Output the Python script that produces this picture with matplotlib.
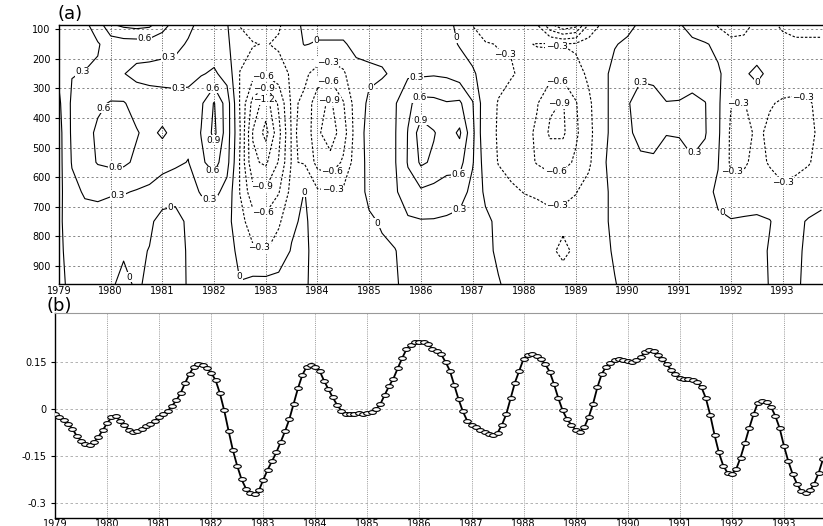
import numpy as np
import matplotlib
matplotlib.use("Agg")
import matplotlib.pyplot as plt
from matplotlib.path import Path
from matplotlib.transforms import Affine2D

# ---------------- panel (a): pressure-time section ----------------
# quarterly columns 1979.00 ... 1993.75
t_field = np.arange(1979.0, 1993.76, 0.25)
lev_hpa = [80, 150, 250, 350, 450, 550, 650, 750, 850, 970]

p080 = [0.15, 0.20, 0.25, 0.45,  0.90, 1.00, 1.05, 1.00,  0.75, 0.50, 0.35, 0.25,
        0.15, 0.02, -0.32, -0.45,  -0.45, -0.35, -0.10, 0.05,  0.08, 0.08, 0.08, 0.10,
        0.12, 0.12, 0.12, 0.15,  0.15, 0.15, 0.10, -0.10,  -0.32, -0.45, -0.45, -0.45,
        -0.50, -0.62, -1.20, -1.55,  -1.40, -0.62, -0.28, -0.10,  -0.05, 0.02, 0.10, 0.05,
        0.01, -0.10, -0.20, -0.35,  -0.45, -0.40, -0.25, -0.25,  -0.35, -0.40, -0.40, -0.40]
p150 = [0.10, 0.20, 0.22, 0.28,  0.40, 0.45, 0.45, 0.45,  0.40, 0.35, 0.28, 0.20,
        0.15, 0.05, -0.20, -0.28,  -0.32, -0.25, -0.10, 0.01,  -0.02, -0.02, -0.02, 0.05,
        0.08, 0.10, 0.10, 0.10,  0.15, 0.15, 0.10, -0.02,  -0.15, -0.28, -0.31, -0.32,
        -0.32, -0.29, -0.27, -0.29,  -0.25, -0.15, -0.08, -0.01,  0.03, 0.10, 0.12, 0.10,
        0.08, 0.05, 0.02, -0.05,  -0.22, -0.22, -0.20, -0.20,  -0.22, -0.25, -0.25, -0.25]
p250 = [0.05, 0.29, 0.31, 0.33,  0.36, 0.31, 0.22, 0.20,  0.20, 0.22, 0.25, 0.28,
        0.34, 0.20, -0.31, -0.50,  -0.55, -0.45, -0.25, -0.25,  -0.40, -0.50, -0.35, -0.06,
        -0.05, -0.03, 0.05, 0.25,  0.25, 0.27, 0.25, 0.15,  0.05, -0.15, -0.25, -0.28,
        -0.35, -0.40, -0.50, -0.50,  -0.40, -0.25, -0.05, 0.05,  0.20, 0.26, 0.22, 0.15,
        0.12, 0.15, 0.10, 0.03,  -0.10, -0.05, 0.08, -0.08,  -0.15, -0.15, -0.15, -0.12]
p350 = [-0.05, 0.35, 0.45, 0.55,  0.62, 0.62, 0.50, 0.45,  0.42, 0.38, 0.36, 0.55,
        0.92, 0.45, -0.32, -1.00,  -1.35, -0.85, -0.25, -0.35,  -0.80, -0.95, -0.62, -0.15,
        0.05, 0.15, 0.27, 0.55,  0.70, 0.68, 0.62, 0.65,  0.32, -0.20, -0.31, -0.40,
        -0.45, -0.58, -0.85, -0.92,  -0.62, -0.35, -0.10, 0.10,  0.28, 0.40, 0.42, 0.31,
        0.32, 0.38, 0.31, 0.05,  -0.29, -0.31, -0.20, -0.28,  -0.33, -0.35, -0.33, -0.22]
p450 = [-0.10, 0.35, 0.50, 0.65,  0.72, 0.70, 0.62, 0.52,  0.65, 0.50, 0.38, 0.61,
        0.98, 0.45, -0.28, -1.22,  -1.60, -1.00, -0.27, -0.35,  -0.85, -1.05, -0.75, -0.15,
        0.10, 0.20, 0.28, 0.61,  1.05, 0.92, 0.76, 0.95,  0.38, -0.25, -0.31, -0.42,
        -0.50, -0.65, -0.95, -0.95,  -0.65, -0.38, -0.10, 0.10,  0.25, 0.38, 0.42, 0.31,
        0.32, 0.40, 0.32, 0.05,  -0.35, -0.40, -0.25, -0.35,  -0.42, -0.42, -0.35, -0.25]
p550 = [-0.10, 0.32, 0.48, 0.62,  0.66, 0.65, 0.55, 0.45,  0.40, 0.35, 0.29, 0.55,
        0.72, 0.40, -0.32, -1.15,  -1.25, -0.88, -0.28, -0.32,  -0.70, -0.80, -0.55, -0.15,
        0.08, 0.15, 0.28, 0.62,  0.95, 0.85, 0.68, 0.70,  0.33, -0.15, -0.31, -0.40,
        -0.50, -0.62, -0.70, -0.70,  -0.55, -0.35, -0.05, 0.10,  0.15, 0.25, 0.25, 0.20,
        0.20, 0.27, 0.22, 0.01,  -0.35, -0.35, -0.20, -0.33,  -0.40, -0.38, -0.32, -0.20]
p650 = [-0.08, 0.22, 0.33, 0.35,  0.33, 0.32, 0.28, 0.25,  0.15, 0.10, 0.20, 0.32,
        0.38, 0.20, -0.31, -0.80,  -0.85, -0.62, -0.20, 0.01,  -0.25, -0.28, -0.25, -0.10,
        0.05, 0.10, 0.25, 0.50,  0.55, 0.50, 0.50, 0.45,  0.20, -0.05, -0.20, -0.25,
        -0.31, -0.35, -0.40, -0.35,  -0.31, -0.20, -0.05, 0.05,  0.08, 0.10, 0.10, 0.08,
        0.08, 0.10, 0.05, -0.03,  -0.20, -0.15, -0.10, -0.15,  -0.25, -0.20, -0.15, -0.08]
p750 = [-0.05, 0.15, 0.20, 0.20,  0.15, 0.12, 0.12, 0.05,  -0.10, -0.10, 0.05, 0.15,
        0.15, 0.10, -0.20, -0.45,  -0.50, -0.35, -0.05, 0.05,  -0.15, -0.20, -0.15, -0.05,
        -0.03, 0.02, 0.10, 0.25,  0.28, 0.28, 0.25, 0.20,  0.12, 0.05, -0.05, -0.10,
        -0.15, -0.15, -0.20, -0.24,  -0.20, -0.15, -0.05, 0.05,  0.10, 0.10, 0.10, 0.10,
        0.10, 0.10, 0.08, 0.02,  0.02, 0.03, 0.03, 0.01,  -0.10, -0.05, 0.02, 0.05]
p850 = [-0.05, 0.10, 0.12, 0.10,  0.05, 0.02, 0.05, -0.01,  -0.08, -0.08, 0.02, 0.10,
        0.10, 0.08, -0.05, -0.25,  -0.31, -0.15, 0.02, 0.05,  -0.10, -0.12, -0.10, -0.05,
        -0.05, -0.03, -0.01, 0.10,  0.15, 0.15, 0.15, 0.12,  0.08, 0.03, -0.02, -0.08,
        -0.12, -0.15, -0.25, -0.36,  -0.25, -0.15, -0.05, 0.02,  0.08, 0.10, 0.10, 0.10,
        0.10, 0.10, 0.10, 0.10,  0.10, 0.10, 0.08, -0.02,  -0.10, -0.05, 0.05, 0.08]
p970 = [-0.05, 0.05, 0.08, 0.05,  0.02, -0.05, 0.02, -0.03,  -0.10, -0.10, 0.02, 0.08,
        0.08, 0.05, 0.01, 0.10,  0.12, 0.10, 0.05, 0.03,  -0.08, -0.10, -0.08, -0.05,
        -0.05, -0.05, -0.02, 0.05,  0.10, 0.10, 0.10, 0.08,  0.06, 0.04, 0.01, -0.03,
        -0.08, -0.10, -0.12, -0.15,  -0.12, -0.08, -0.05, -0.01,  0.05, 0.08, 0.08, 0.08,
        0.08, 0.08, 0.08, 0.08,  0.08, 0.08, 0.08, -0.01,  -0.08, -0.03, 0.05, 0.08]

cont_levels = [-1.5, -1.2, -0.9, -0.6, -0.3, 0.0, 0.3, 0.6, 0.9]
p_ticks = [100, 200, 300, 400, 500, 600, 700, 800, 900]
year_ticks = list(range(1979, 1994))

# where the reference puts its contour labels (year, hPa)
label_pos = [(1980.65, 140), (1979.45, 242), (1981.15, 210), (1981.3, 290),
             (1979.8, 360), (1980.1, 585), (1980.15, 675), (1981.15, 700),
             (1981.98, 300), (1981.95, 478), (1981.98, 575), (1981.9, 684),
             (1982.5, 935), (1982.95, 262), (1982.95, 298), (1982.95, 335),
             (1982.95, 625), (1982.95, 718), (1982.85, 845), (1983.67, 650),
             (1984.0, 148), (1984.2, 215), (1984.2, 275), (1984.2, 335),
             (1984.3, 585), (1984.3, 645), (1985.0, 290), (1985.17, 755),
             (1985.92, 270), (1985.95, 328), (1986.0, 405), (1986.75, 615),
             (1986.8, 730), (1986.76, 125), (1987.72, 165), (1988.65, 180),
             (1988.65, 290), (1988.65, 350), (1988.6, 570), (1988.6, 640),
             (1990.14, 265), (1991.3, 520), (1991.72, 745), (1992.13, 350),
             (1992.04, 600), (1993.4, 325), (1993.0, 622), (1992.5, 283),
             (1980.35, 940)]

# ---------------- panel (b): monthly index, Jan 1979 - Oct 1993 ----------------
idx_1979 = [-0.016, -0.026, -0.035, -0.048, -0.063, -0.086, -0.101, -0.111, -0.115, -0.106, -0.089, -0.068]
idx_1980 = [-0.046, -0.027, -0.023, -0.038, -0.052, -0.066, -0.074, -0.072, -0.063, -0.055, -0.047, -0.038]
idx_1981 = [-0.027, -0.016, -0.006, 0.010, 0.028, 0.052, 0.083, 0.112, 0.135, 0.144, 0.141, 0.130]
idx_1982 = [0.115, 0.092, 0.050, -0.005, -0.070, -0.132, -0.182, -0.225, -0.254, -0.267, -0.270, -0.260]
idx_1983 = [-0.226, -0.194, -0.167, -0.139, -0.106, -0.072, -0.033, 0.016, 0.066, 0.108, 0.135, 0.141]
idx_1984 = [0.135, 0.121, 0.090, 0.063, 0.037, 0.013, -0.006, -0.015, -0.016, -0.015, -0.014, -0.015]
idx_1985 = [-0.014, -0.010, -0.001, 0.016, 0.045, 0.073, 0.097, 0.130, 0.162, 0.190, 0.205, 0.213]
idx_1986 = [0.215, 0.212, 0.206, 0.192, 0.184, 0.174, 0.150, 0.122, 0.076, 0.031, -0.008, -0.038]
idx_1987 = [-0.051, -0.058, -0.067, -0.073, -0.080, -0.083, -0.076, -0.051, -0.017, 0.034, 0.084, 0.122]
idx_1988 = [0.160, 0.173, 0.174, 0.170, 0.159, 0.142, 0.119, 0.079, 0.034, -0.005, -0.033, -0.051]
idx_1989 = [-0.067, -0.073, -0.058, -0.026, 0.016, 0.069, 0.111, 0.135, 0.147, 0.156, 0.158, 0.156]
idx_1990 = [0.152, 0.150, 0.156, 0.166, 0.181, 0.188, 0.184, 0.172, 0.158, 0.142, 0.124, 0.110]
idx_1991 = [0.100, 0.095, 0.095, 0.092, 0.086, 0.069, 0.034, -0.019, -0.083, -0.139, -0.181, -0.204]
idx_1992 = [-0.208, -0.192, -0.155, -0.109, -0.061, -0.017, 0.020, 0.026, 0.023, 0.007, -0.022, -0.061]
idx_1993 = [-0.118, -0.167, -0.208, -0.239, -0.263, -0.268, -0.260, -0.238, -0.204, -0.160]

idx_ticks = [0.15, 0, -0.15, -0.3]
idx_ticklabels = ["0.15", "0", "-0.15", "-0.3"]


def fmt_label(v):
    if abs(v) < 1e-9:
        return "0"
    return f"{v:.1f}".replace("-", "\u2212")


field = np.array([p080, p150, p250, p350, p450, p550, p650, p750, p850, p970])

index = np.concatenate([idx_1979, idx_1980, idx_1981, idx_1982, idx_1983, idx_1984, idx_1985,
                        idx_1986, idx_1987, idx_1988, idx_1989, idx_1990, idx_1991, idx_1992,
                        idx_1993])
t_month = 1979 + np.arange(len(index)) / 12.0

fig = plt.figure(figsize=(8.23, 5.26), dpi=100)

# --- (a) ---
ax1 = fig.add_axes([59 / 823, 1 - 284 / 526, 764 / 823, 259 / 526])
ax1.set_xlim(1979, 1993.78)
ax1.set_ylim(962, 85)
cs = ax1.contour(t_field, lev_hpa, field, levels=cont_levels, colors="k",
                 linewidths=0.8, negative_linestyles=(0, (2.2, 1.6)))
lbls = ax1.clabel(cs, fmt=fmt_label, fontsize=6.5, inline=False, manual=label_pos)
for t in lbls:
    # GrADS style: horizontal label on a white patch
    t.set_rotation(0)
    t.set_bbox(dict(facecolor="white", edgecolor="none", pad=0.3))
ax1.set_yticks(p_ticks)
ax1.set_yticklabels([str(p) for p in p_ticks])
ax1.set_xticks(year_ticks)
ax1.set_xticklabels([str(y) for y in year_ticks])
for y in p_ticks:
    ax1.axhline(y, color="0.45", lw=0.6, ls=(0, (2.5, 3)), zorder=0)
for x in year_ticks[1:]:
    ax1.axvline(x, color="0.35", lw=0.7, ls=(0, (1, 1.5)), zorder=0)
ax1.tick_params(axis="y", direction="out", length=3, width=0.8, pad=3, labelsize=7)
ax1.tick_params(axis="x", length=0, pad=1.5, labelsize=7)
ax1.spines["right"].set_visible(False)
for s in ["left", "bottom", "top"]:
    ax1.spines[s].set_linewidth(1.0)
fig.text(57 / 823, 1 - 5 / 526, "(a)", fontsize=13, va="top", ha="left")

# --- (b) ---
ax2 = fig.add_axes([55 / 823, 1 - 518 / 526, 768 / 823, 205 / 526])
ell = Path.unit_circle().transformed(Affine2D().scale(1.0, 0.5))
ax2.plot(t_month, index, color="k", lw=1.3, marker=ell, markersize=5.5,
         markerfacecolor="white", markeredgecolor="k", markeredgewidth=0.8, zorder=3)
ax2.set_xlim(1979, 1993.75)
ax2.set_ylim(-0.348, 0.306)
ax2.set_yticks(idx_ticks)
ax2.set_yticklabels(idx_ticklabels)
ax2.set_xticks(year_ticks)
ax2.set_xticklabels([str(y) for y in year_ticks])
for y in idx_ticks:
    ax2.axhline(y, color="0.65", lw=0.6, ls=(0, (3, 3)), zorder=0)
for x in year_ticks[1:]:
    ax2.axvline(x, color="0.6", lw=0.7, ls=(0, (1, 1.2)), zorder=0)
ax2.tick_params(axis="y", direction="out", length=3, width=0.8, pad=3, labelsize=7)
ax2.tick_params(axis="x", length=0, pad=0.5, labelsize=7)
ax2.spines["right"].set_visible(False)
ax2.spines["top"].set_color("0.6")
ax2.spines["left"].set_linewidth(1.0)
ax2.spines["bottom"].set_linewidth(1.0)
fig.text(46 / 823, 1 - 297 / 526, "(b)", fontsize=13, va="top", ha="left")

fig.savefig("out.png", dpi=100)
